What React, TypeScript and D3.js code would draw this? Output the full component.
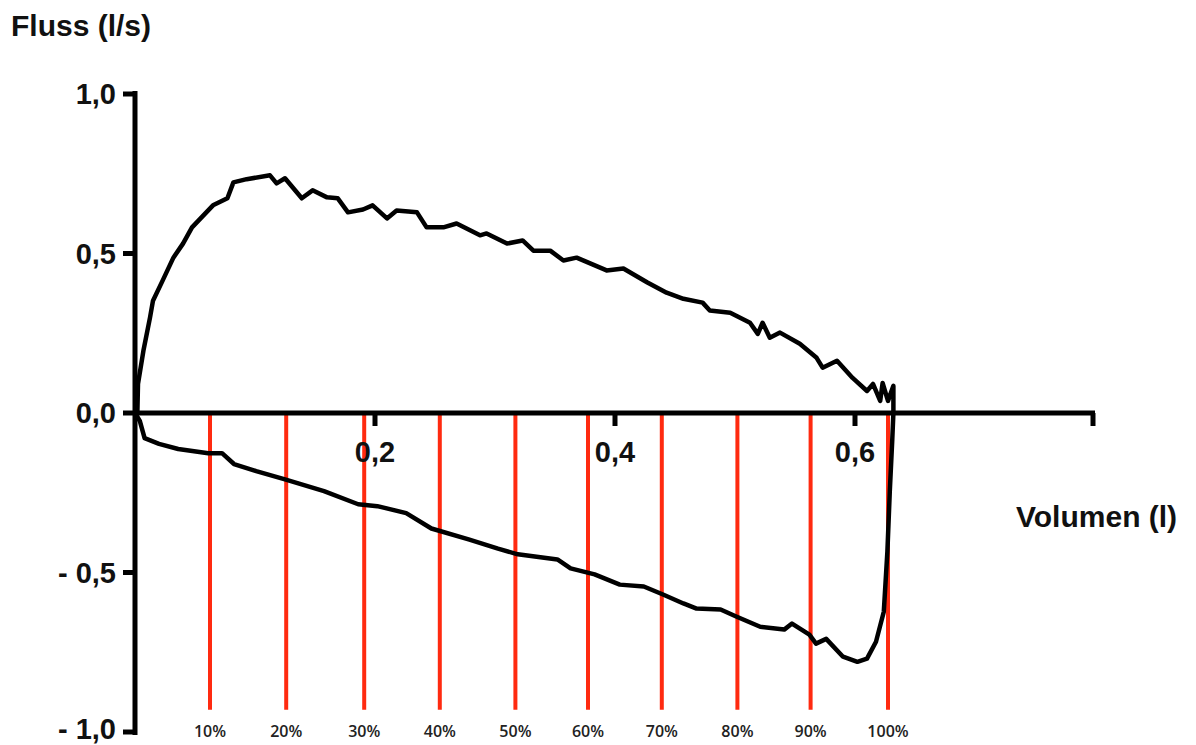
import React from 'react';
import * as d3 from 'd3';

// Expiration (upper loop): volume (l) and flow (l/s)
const expVolume = [0, 0.002, 0.0025, 0.007, 0.0125, 0.015, 0.023, 0.032, 0.04, 0.0475, 0.065, 0.077, 0.082, 0.093, 0.1125, 0.118, 0.125, 0.139, 0.148, 0.16, 0.169, 0.1775, 0.19, 0.198, 0.21, 0.218, 0.235, 0.243, 0.257, 0.268, 0.2875, 0.293, 0.31, 0.323, 0.332, 0.346, 0.357, 0.368, 0.393, 0.407, 0.427, 0.443, 0.457, 0.473, 0.479, 0.496, 0.5125, 0.519, 0.523, 0.529, 0.5375, 0.554, 0.568, 0.573, 0.585, 0.598, 0.61, 0.615, 0.621, 0.623, 0.6275, 0.632, 0.632];
const expFlow = [0, 0.006, 0.091, 0.195, 0.299, 0.352, 0.415, 0.487, 0.531, 0.582, 0.651, 0.673, 0.723, 0.733, 0.745, 0.72, 0.736, 0.673, 0.698, 0.676, 0.673, 0.629, 0.638, 0.651, 0.61, 0.635, 0.629, 0.582, 0.582, 0.594, 0.557, 0.563, 0.531, 0.541, 0.509, 0.509, 0.478, 0.487, 0.447, 0.453, 0.409, 0.377, 0.358, 0.346, 0.321, 0.314, 0.283, 0.248, 0.283, 0.236, 0.252, 0.217, 0.173, 0.142, 0.164, 0.11, 0.069, 0.091, 0.038, 0.094, 0.038, 0.085, 0];

// Inspiration (lower loop)
const inspVolume = [0, 0.004, 0.008, 0.02, 0.036, 0.061, 0.0725, 0.0825, 0.101, 0.125, 0.1575, 0.186, 0.202, 0.226, 0.247, 0.278, 0.3025, 0.319, 0.352, 0.363, 0.383, 0.404, 0.424, 0.44, 0.457, 0.468, 0.488, 0.501, 0.521, 0.541, 0.5475, 0.562, 0.5675, 0.576, 0.59, 0.602, 0.61, 0.6175, 0.624, 0.627, 0.629, 0.631, 0.632];
const inspFlow = [0, -0.025, -0.079, -0.097, -0.113, -0.126, -0.126, -0.16, -0.182, -0.208, -0.245, -0.286, -0.292, -0.314, -0.362, -0.396, -0.425, -0.443, -0.459, -0.487, -0.506, -0.538, -0.544, -0.569, -0.597, -0.613, -0.616, -0.638, -0.67, -0.679, -0.66, -0.695, -0.723, -0.708, -0.764, -0.78, -0.77, -0.717, -0.623, -0.434, -0.245, -0.088, 0];

// Percentage markers of the volume
const markerVolume = [0.0625, 0.126, 0.191, 0.254, 0.317, 0.3775, 0.439, 0.502, 0.563, 0.6275];
const markerLabels = ['10%', '20%', '30%', '40%', '50%', '60%', '70%', '80%', '90%', '100%'];

const xTicks = [0.2, 0.4, 0.6];
const yTicks = [1, 0.5, 0, -0.5, -1];

const fmt = (d: number) => {
  const s = d3.format('.1f')(Math.abs(d)).replace('.', ',');
  return d < 0 ? '- ' + s : s;
};

const App = () => {
  const x = d3.scaleLinear().domain([0, 0.8]).range([135, 1095]);
  const y = d3.scaleLinear().domain([-1, 1]).range([732, 94]);

  const line = d3.line<[number, number]>()
    .x(d => x(d[0]))
    .y(d => y(d[1]));

  const expPts = expVolume.map((v, i) => [v, expFlow[i]] as [number, number]);
  const inspPts = inspVolume.map((v, i) => [v, inspFlow[i]] as [number, number]);

  const font = '"Liberation Sans", Arial, sans-serif';

  return (
    <svg width={1196} height={745} style={{ position: 'absolute', left: 0, top: 0, background: '#fff' }}>
      {/* red percentage lines */}
      {markerVolume.map((v, i) => (
        <g key={i}>
          <line x1={x(v)} x2={x(v)} y1={y(0)} y2={y(-0.93)} stroke="#ff2a10" strokeWidth={4} />
          <text x={x(v)} y={737} textAnchor="middle" fontFamily='"Open Sans", sans-serif'
            fontWeight={600} fontSize={16} fill="#222">{markerLabels[i]}</text>
        </g>
      ))}

      {/* curves */}
      <path d={line(inspPts) || ''} fill="none" stroke="#000" strokeWidth={4.5} strokeLinejoin="round" />
      <path d={line(expPts) || ''} fill="none" stroke="#000" strokeWidth={4.5} strokeLinejoin="round" />

      {/* y axis */}
      <line x1={x(0)} x2={x(0)} y1={y(1) - 3} y2={y(-1) + 3} stroke="#000" strokeWidth={5} />
      {yTicks.map(t => (
        <g key={t}>
          <line x1={x(0) - 12} x2={x(0)} y1={y(t)} y2={y(t)} stroke="#000" strokeWidth={5} />
          <text x={116} y={Math.min(y(t) + 10, 739)} textAnchor="end" fontFamily={font} fontWeight="bold"
            fontSize={29} fill="#111">{fmt(t)}</text>
        </g>
      ))}

      {/* x axis */}
      <line x1={x(0)} x2={x(0.8)} y1={y(0)} y2={y(0)} stroke="#000" strokeWidth={5} />
      <line x1={x(0.8) - 2} x2={x(0.8) - 2} y1={y(0)} y2={y(0) + 13} stroke="#000" strokeWidth={5} />
      {xTicks.map(t => (
        <g key={t}>
          <line x1={x(t)} x2={x(t)} y1={y(0)} y2={y(0) + 13} stroke="#000" strokeWidth={5} />
          <text x={x(t)} y={y(0) + 49} textAnchor="middle" fontFamily={font} fontWeight="bold"
            fontSize={29} fill="#111">{fmt(t)}</text>
        </g>
      ))}

      {/* axis titles */}
      <text x={11} y={36} fontFamily={font} fontWeight="bold" fontSize={30} fill="#111">Fluss (l/s)</text>
      <text x={1016} y={527} fontFamily={font} fontWeight="bold" fontSize={30} fill="#111">Volumen (l)</text>
    </svg>
  );
};

export default App;
